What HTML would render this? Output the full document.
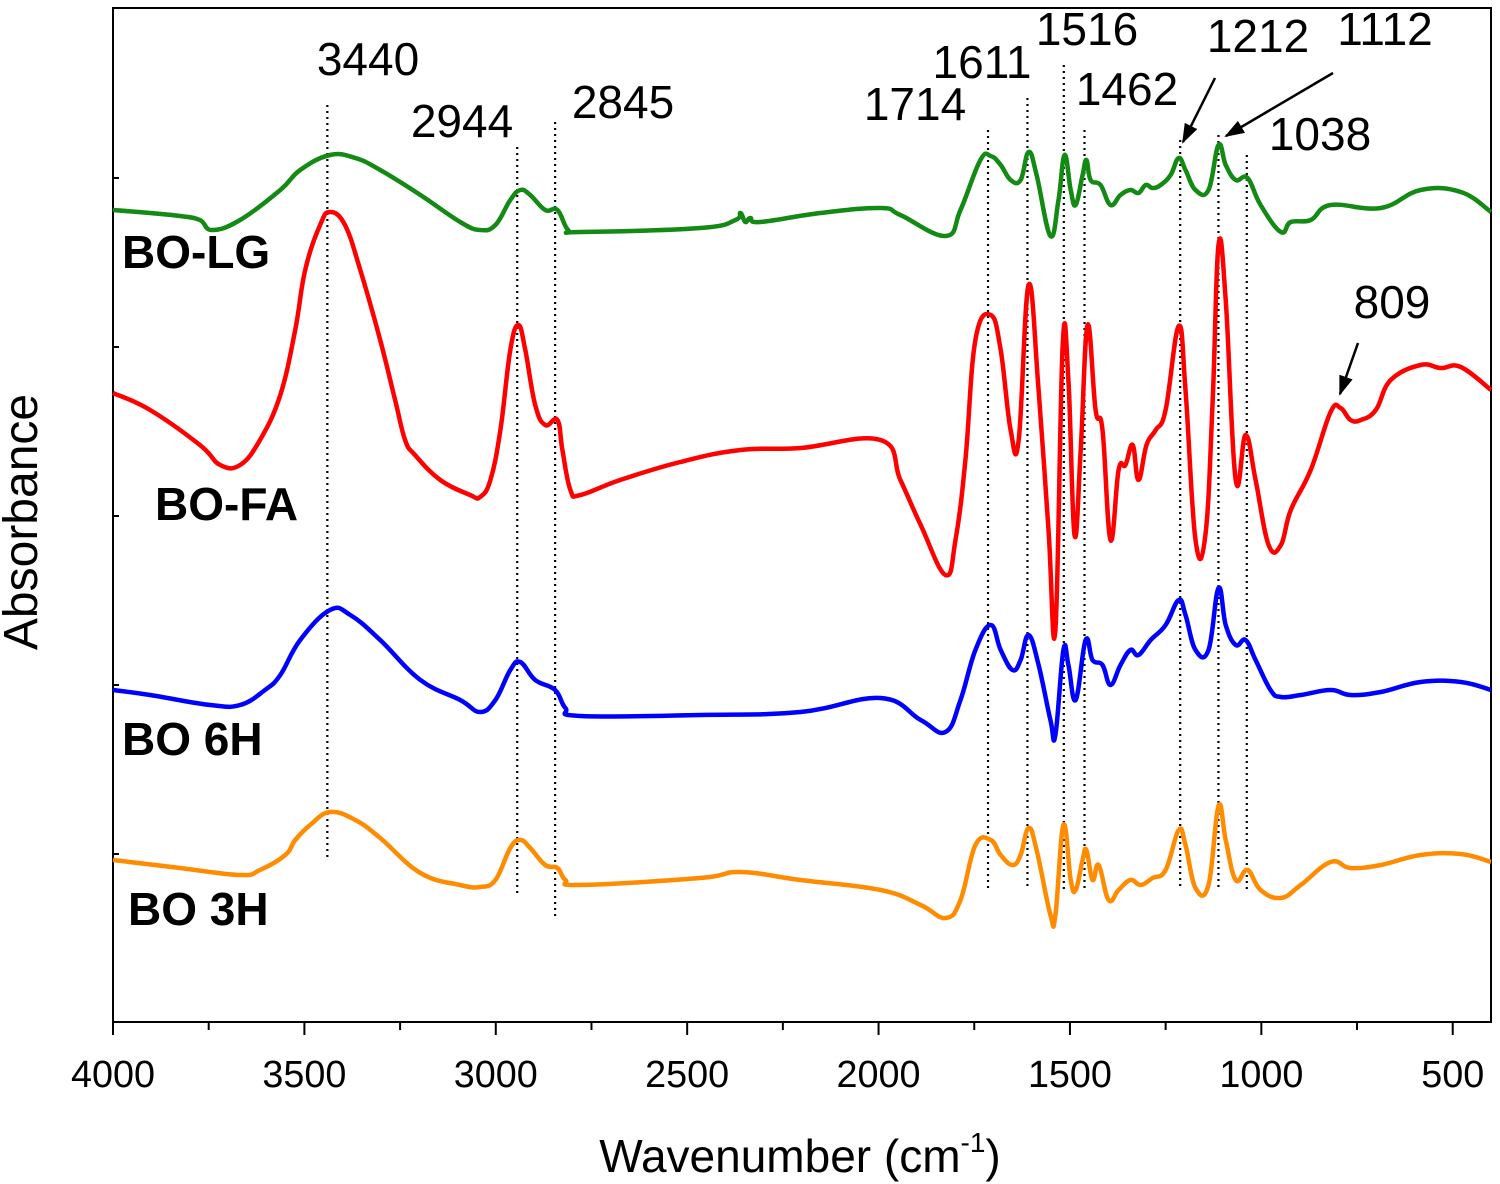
<!DOCTYPE html>
<html><head><meta charset="utf-8"><style>
html,body{margin:0;padding:0;background:#fff;}
svg{display:block;font-family:"Liberation Sans",Arial,sans-serif;}
</style></head><body>
<svg id="chart" width="1500" height="1184" viewBox="0 0 1500 1184" xmlns="http://www.w3.org/2000/svg">
<defs><marker id="ah" viewBox="0 0 10 10" refX="9" refY="5" markerWidth="20" markerHeight="14" orient="auto" markerUnits="userSpaceOnUse" preserveAspectRatio="none"><path d="M0,0 L10,5 L0,10 z" fill="#000"/></marker></defs>
<g id="plot"></g>
</svg>
<script>
const xTicks=[4000,3500,3000,2500,2000,1500,1000,500];
const xMinor=[3750,3250,2750,2250,1750,1250,750];
const yTicks=[844,675,506,337,168];
const peakLines=[[3440,917,164],[2944,875,125],[2845,900,104],[1714,892,132],[1611,924,132],[1516,957,132],[1462,892,132],[1212,882,132],[1112,887,132],[1038,867,132]];
const wGreen=[4000,3903,3825,3773,3741,3668,3563,3511,3433,3367,3302,3197,3093,3041,3001,2962,2936,2910,2871,2839,2811,2779,2466,2374,2361,2348,2335,2309,2152,1995,1943,1825,1786,1734,1707,1681,1655,1629,1608,1587,1551,1530,1514,1498,1485,1467,1457,1446,1420,1394,1368,1342,1321,1302,1284,1263,1237,1216,1198,1172,1138,1112,1093,1067,1036,1002,949,923,871,819,688,584,479,400];
const aGreen=[812,809,806,802,792,802,832,852,867,864,852,827,800,792,797,822,832,827,812,812,792,790,794,802,809,800,804,800,809,814,807,786,812,862,866,857,842,842,870,847,786,822,867,832,817,847,862,842,837,817,827,832,829,837,834,837,847,864,852,832,832,877,857,842,844,817,790,800,802,817,814,832,830,810];
const wRed=[4000,3903,3773,3720,3668,3616,3563,3524,3498,3459,3433,3394,3354,3302,3263,3237,3211,3145,3067,3041,3014,2988,2962,2941,2923,2897,2871,2839,2826,2805,2779,2675,2518,2361,2204,1995,1943,1890,1825,1799,1773,1747,1707,1681,1655,1634,1608,1582,1556,1538,1519,1504,1488,1472,1454,1433,1415,1394,1373,1355,1336,1321,1300,1276,1250,1216,1198,1172,1146,1127,1112,1093,1067,1041,1015,981,949,923,871,819,793,767,740,701,662,584,531,479,400];
const aRed=[629,612,577,557,557,582,627,692,752,797,810,797,752,682,622,582,567,542,527,525,542,592,672,697,672,617,597,602,572,532,527,542,560,572,574,582,542,497,447,482,562,682,707,672,592,582,737,632,492,392,677,642,487,572,697,612,592,482,552,557,577,542,577,592,612,696,632,482,487,622,777,722,542,587,542,477,477,512,552,610,614,602,602,612,642,657,654,655,632];
const wBlue=[4000,3903,3746,3668,3603,3563,3511,3433,3380,3302,3197,3093,3041,3001,2962,2936,2897,2845,2818,2779,2466,2204,1995,1890,1825,1786,1747,1707,1681,1650,1629,1608,1582,1551,1538,1517,1504,1485,1459,1441,1415,1394,1368,1342,1321,1289,1250,1216,1198,1172,1138,1112,1093,1067,1041,1015,976,949,897,819,767,688,584,479,400];
const aBlue=[332,327,317,317,332,347,382,412,407,382,342,322,310,322,352,360,342,332,314,306,307,310,324,302,290,322,372,397,372,352,362,387,357,302,287,372,357,322,382,362,357,337,357,372,367,382,397,422,407,372,372,434,397,377,382,362,332,325,327,332,327,330,340,340,332];
const wOrange=[4000,3825,3668,3616,3550,3524,3485,3433,3367,3302,3197,3093,3041,3001,2962,2936,2910,2871,2839,2818,2779,2466,2361,2204,1995,1890,1825,1786,1747,1707,1681,1650,1629,1608,1587,1551,1538,1517,1498,1485,1467,1457,1441,1425,1399,1373,1342,1315,1284,1250,1216,1198,1172,1138,1112,1093,1067,1036,1002,949,897,819,767,688,584,479,400];
const aOrange=[162,154,147,152,167,182,197,210,202,184,149,137,135,142,174,182,174,157,154,142,137,144,150,142,132,117,104,122,177,182,167,157,167,194,172,107,107,197,142,132,162,172,142,157,122,132,142,137,144,152,192,177,134,137,216,182,142,152,132,124,137,160,154,157,167,168,160];
const seriesNames=["BO-LG","BO-FA","BO 6H","BO 3H"];

const L=113,R=1491,T=8,B=1022;
function X(w){return L+(4000-w)*(R-L)/3600;}
function Y(a){return B-a*(B-T)/1014;}
const NS="http://www.w3.org/2000/svg";
const g=document.getElementById('plot');
function el(tag,attrs,parent){const e=document.createElementNS(NS,tag);for(const k in attrs)e.setAttribute(k,attrs[k]);(parent||g).appendChild(e);return e;}

const frame=el('rect',{x:L,y:T,width:R-L,height:B-T,fill:'none',stroke:'#000','stroke-width':2});



xTicks.forEach(t=>{
  const ln=el('line',{x1:X(t),x2:X(t),y1:B,y2:B+13,stroke:'#000','stroke-width':2});
  
  
  const tx=el('text',{x:X(t),y:1087,'font-size':38,'text-anchor':'middle',fill:'#000',textLength:84,lengthAdjust:'spacingAndGlyphs'});
  tx.textContent=t;
  if(String(t).length===3){tx.setAttribute('textLength',63);}
  
  
});
xMinor.forEach(t=>{
  const ln=el('line',{x1:X(t),x2:X(t),y1:B,y2:B+8,stroke:'#000','stroke-width':2});
  
  
});
yTicks.forEach(t=>{
  const ln=el('line',{x1:L,x2:L+6,y1:Y(t),y2:Y(t),stroke:'#000','stroke-width':2});
  
  
});

peakLines.forEach(p=>{
  const ln=el('line',{x1:X(p[0]),x2:X(p[0]),y1:Y(p[1]),y2:Y(p[2]),stroke:'#000','stroke-width':2.2,'stroke-dasharray':'2,4'});
  
  
});

function smoothPath(pts){
  let d='M'+pts[0][0].toFixed(1)+','+pts[0][1].toFixed(1);
  for(let i=0;i<pts.length-1;i++){
    const p0=pts[Math.max(0,i-1)],p1=pts[i],p2=pts[i+1],p3=pts[Math.min(pts.length-1,i+2)];
    const t=0.2;
    const c1x=p1[0]+(p2[0]-p0[0])*t,c1y=p1[1]+(p2[1]-p0[1])*t;
    const c2x=p2[0]-(p3[0]-p1[0])*t,c2y=p2[1]-(p3[1]-p1[1])*t;
    d+=' C'+c1x.toFixed(1)+','+c1y.toFixed(1)+' '+c2x.toFixed(1)+','+c2y.toFixed(1)+' '+p2[0].toFixed(1)+','+p2[1].toFixed(1);
  }
  return d;
}
const data=[[wGreen,aGreen,'#138a13'],[wRed,aRed,'#ff0000'],[wBlue,aBlue,'#0000ff'],[wOrange,aOrange,'#ff8c00']];
data.forEach((s,i)=>{
  const pts=s[0].map((w,j)=>[X(w),Y(s[1][j])]);
  const p=el('path',{d:smoothPath(pts),fill:'none',stroke:s[2],'stroke-width':4.5,'stroke-linejoin':'round'});
  
  
});
</script>
<script>
(function(){
const NS="http://www.w3.org/2000/svg";const svg=document.getElementById('chart');
function txt(x,y,s,size,name,extra){const t=document.createElementNS(NS,'text');t.setAttribute('x',x);t.setAttribute('y',y);t.setAttribute('font-size',size);for(const k in (extra||{}))t.setAttribute(k,extra[k]);t.textContent=s;svg.appendChild(t);return t;}
const peaks=[["3440",368,75],["2944",462,137],["2845",623,118],["1714",915,120],["1611",982,78],["1516",1087,45],["1462",1127,105],["1212",1258,52],["1112",1385,45],["1038",1320,150],["809",1392,318]];
peaks.forEach(p=>{txt(p[1],p[2],p[0],46,'peak-label-'+p[0],{'text-anchor':'middle'});});
txt(122,268,"BO-LG",46,'label-bo-lg',{'font-weight':'bold'});
txt(155,520,"BO-FA",46,'label-bo-fa',{'font-weight':'bold'});
txt(122,755,"BO 6H",46,'label-bo-6h',{'font-weight':'bold'});
txt(128,925,"BO 3H",46,'label-bo-3h',{'font-weight':'bold'});
txt(0,0,"Absorbance",48,'y-axis-title',{'text-anchor':'middle','transform':'translate(37,522) rotate(-90)'});
const xt=txt(800,1172,"Wavenumber (cm",46,'x-axis-title',{'text-anchor':'middle'});
const ts=document.createElementNS(NS,'tspan');ts.setAttribute('font-size',28);ts.setAttribute('dy',-20);ts.textContent="-1";xt.appendChild(ts);
const ts2=document.createElementNS(NS,'tspan');ts2.setAttribute('dy',20);ts2.textContent=")";xt.appendChild(ts2);
[[1215,78,1183,142,'arrow-1212'],[1333,73,1226,136,'arrow-1112'],[1358,343,1340,394,'arrow-809']].forEach(a=>{
 const l=document.createElementNS(NS,'line');l.setAttribute('x1',a[0]);l.setAttribute('y1',a[1]);l.setAttribute('x2',a[2]);l.setAttribute('y2',a[3]);l.setAttribute('stroke','#000');l.setAttribute('stroke-width',2.5);l.setAttribute('marker-end','url(#ah)');
 
 
 svg.appendChild(l);});
})();
</script>
</body></html>
